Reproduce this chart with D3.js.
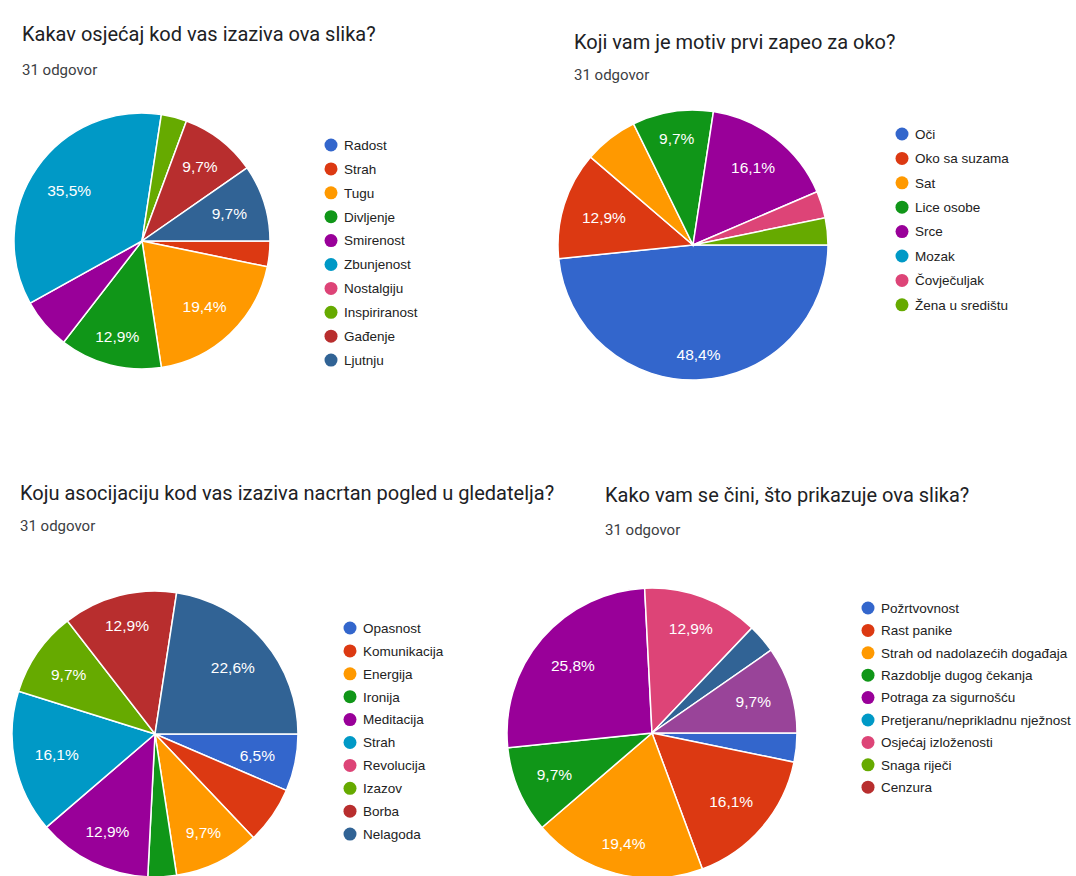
<!DOCTYPE html>
<html>
<head>
<meta charset="utf-8">
<script src="https://cdn.jsdelivr.net/npm/d3@7"></script>
<style>
  html, body { margin: 0; padding: 0; background: #fff; }
  svg { display: block; }
  .title { font-family: Roboto, "Noto Sans", sans-serif; font-size: 20px; fill: #202124; }
  .sub { font-family: Roboto, "Noto Sans", sans-serif; font-size: 15px; fill: #3c4043; }
  .legend text { font-family: "Liberation Sans", Arial, sans-serif; font-size: 13.5px; fill: #222; }
  .slice-label { font-family: "Liberation Sans", Arial, sans-serif; font-size: 15.5px; fill: #fff; }
</style>
</head>
<body>
<script>
// Four Google Forms style pie summaries, 31 answers each.
const W = 1076, H = 876;
const COLORS = ["#3366cc", "#dc3912", "#ff9900", "#109618", "#990099", "#0099c6",
  "#dd4477", "#66aa00", "#b82e2e", "#316395", "#994499"];
const SUBTITLE = "31 odgovor";

const title1 = "Kakav osjećaj kod vas izaziva ova slika?";
const labels1 = ["Radost", "Strah", "Tugu", "Divljenje", "Smirenost", "Zbunjenost",
  "Nostalgiju", "Inspiriranost", "Gađenje", "Ljutnju"];
const counts1 = [0, 1, 6, 4, 2, 11, 0, 1, 3, 3];

const title2 = "Koji vam je motiv prvi zapeo za oko?";
const labels2 = ["Oči", "Oko sa suzama", "Sat", "Lice osobe", "Srce", "Mozak",
  "Čovječuljak", "Žena u središtu"];
const counts2 = [15, 4, 2, 3, 5, 0, 1, 1];

const title3 = "Koju asocijaciju kod vas izaziva nacrtan pogled u gledatelja?";
const labels3 = ["Opasnost", "Komunikacija", "Energija", "Ironija", "Meditacija",
  "Strah", "Revolucija", "Izazov", "Borba", "Nelagoda"];
const counts3 = [2, 2, 3, 1, 4, 5, 0, 3, 4, 7];

const title4 = "Kako vam se čini, što prikazuje ova slika?";
// the last two answers sit on the second legend page, their names are not visible
const labels4 = ["Požrtvovnost", "Rast panike", "Strah od nadolazećih događaja",
  "Razdoblje dugog čekanja", "Potraga za sigurnošću", "Pretjeranu/neprikladnu nježnost",
  "Osjećaj izloženosti", "Snaga riječi", "Cenzura", "", ""];
const counts4 = [1, 5, 6, 3, 8, 0, 4, 0, 0, 1, 3];

const LABEL_OUTER = 0.86;
const LABEL_MARGIN = 4;

const panels = [
  { title: title1, labels: labels1, counts: counts1, tx: 22, ty: 41, sy: 75,
    cx: 142, cy: 241, r: 128, lx: 331, ly: 145, step: 23.9 },
  { title: title2, labels: labels2, counts: counts2, tx: 574, ty: 49, sy: 80,
    cx: 693, cy: 245, r: 135, lx: 902, ly: 134, step: 24.4 },
  { title: title3, labels: labels3, counts: counts3, tx: 20, ty: 500, sy: 531,
    cx: 155, cy: 734, r: 143, lx: 350, ly: 628, step: 22.9 },
  { title: title4, labels: labels4, counts: counts4, tx: 605, ty: 502, sy: 535,
    cx: 652, cy: 733, r: 145, lx: 868, ly: 608, step: 22.4 },
];

function formatPct(v) {
  return v.toFixed(1).replace(".", ",") + "%";
}

const svg = d3.select("body").append("svg")
  .attr("width", W).attr("height", H)
  .attr("viewBox", `0 0 ${W} ${H}`);
svg.append("rect").attr("width", W).attr("height", H).attr("fill", "#fff");

const pie = d3.pie().sort(null).value((d) => d.count)
  .startAngle(Math.PI / 2).endAngle(Math.PI / 2 + 2 * Math.PI);

// true when every corner of the label box sits inside the wedge with some room
function labelFits(d, x, y, w, h, r) {
  const corners = [[x - w / 2, y - h / 2], [x + w / 2, y - h / 2],
    [x - w / 2, y + h / 2], [x + w / 2, y + h / 2]];
  const TAU = 2 * Math.PI;
  for (const [px, py] of corners) {
    const dist = Math.hypot(px, py);
    if (dist > r - LABEL_MARGIN) return false;
    let a = Math.atan2(px, -py);
    while (a < d.startAngle) a += TAU;
    while (a >= d.startAngle + TAU) a -= TAU;
    if (a > d.endAngle) return false;
    for (const edge of [d.startAngle, d.endAngle]) {
      const ux = Math.sin(edge), uy = -Math.cos(edge);
      if (Math.abs(ux * py - uy * px) < LABEL_MARGIN) return false;
    }
  }
  return true;
}

panels.forEach((p) => {
  const g = svg.append("g");
  g.append("text").attr("class", "title").attr("x", p.tx).attr("y", p.ty).text(p.title);
  g.append("text").attr("class", "sub").attr("x", p.tx).attr("y", p.sy).text(SUBTITLE);

  const total = d3.sum(p.counts);
  const data = p.counts.map((c, i) => ({ label: p.labels[i], count: c, color: COLORS[i] }));
  const arcs = pie(data).filter((d) => d.data.count > 0);
  const arc = d3.arc().innerRadius(0).outerRadius(p.r);

  const pg = g.append("g").attr("transform", `translate(${p.cx},${p.cy})`);
  pg.selectAll("path.slice").data(arcs).join("path")
    .attr("class", "slice")
    .attr("d", arc)
    .attr("fill", (d) => d.data.color)
    .attr("stroke", "#fff")
    .attr("stroke-width", 1.5);

  pg.selectAll("text.slice-label").data(arcs).join("text")
    .attr("class", "slice-label")
    .attr("text-anchor", "middle")
    .attr("dy", "0.36em")
    .text((d) => formatPct(d.data.count / total * 100))
    .each(function (d) {
      const w = this.getComputedTextLength();
      const h = 15.5;
      const capH = 11.5;
      const m = (d.startAngle + d.endAngle) / 2;
      const ux = Math.sin(m), uy = -Math.cos(m);
      const half = (w / 2) * Math.abs(ux) + (capH / 2) * Math.abs(uy);
      const dist = LABEL_OUTER * p.r - half;
      const x = ux * dist, y = uy * dist;
      if (!labelFits(d, x, y, w, h, p.r)) {
        d3.select(this).remove();
        return;
      }
      d3.select(this).attr("x", x).attr("y", y);
    });

  const items = data.filter((d) => d.label !== "");
  const lg = g.append("g").attr("class", "legend")
    .attr("transform", `translate(${p.lx},${p.ly})`);
  const row = lg.selectAll("g").data(items).join("g")
    .attr("transform", (d, i) => `translate(0,${i * p.step})`);
  row.append("circle").attr("r", 6.5).attr("fill", (d) => d.color);
  row.append("text").attr("x", 13).attr("dy", "0.36em").text((d) => d.label);
});
</script>
</body>
</html>
